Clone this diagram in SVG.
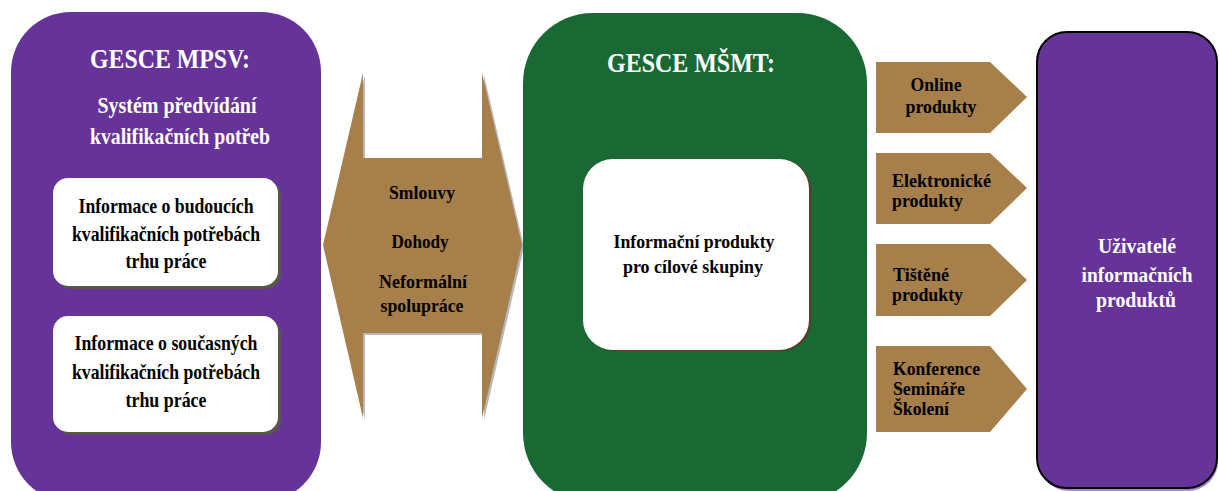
<svg xmlns="http://www.w3.org/2000/svg" width="1219" height="491" viewBox="0 0 1219 491">
<style>
text{font-family:"Liberation Serif","Times New Roman",serif;font-weight:bold}
.w{fill:#ffffff}
.k{fill:#000000}
.c{text-anchor:middle}
.purple{fill:#663399}
.green{fill:#1a6934}
.tan{fill:#a67f4b}
.card{fill:#ffffff}
</style>
<rect width="1219" height="491" fill="#ffffff"/>
<g id="mpsv">
<rect class="purple" x="11" y="12" width="310" height="490" rx="60" ry="60"/>
<text class="w c" x="170" y="68" font-size="28" textLength="160" lengthAdjust="spacingAndGlyphs">GESCE MPSV:</text>
<text class="w c" x="177" y="113" font-size="23" textLength="159" lengthAdjust="spacingAndGlyphs">Systém předvídání</text>
<text class="w c" x="180" y="144" font-size="23" textLength="180" lengthAdjust="spacingAndGlyphs">kvalifikačních potřeb</text>
</g>
<g id="budouci">
<rect x="56" y="181" width="225" height="108" rx="15" fill="#58554f"/>
<rect class="card" x="53" y="178" width="225" height="108" rx="15"/>
<text class="k c" x="166" y="213" font-size="21" textLength="175" lengthAdjust="spacingAndGlyphs">Informace o budoucích</text>
<text class="k c" x="166" y="241" font-size="21" textLength="188" lengthAdjust="spacingAndGlyphs">kvalifikačních potřebách</text>
<text class="k c" x="166" y="268" font-size="21" textLength="81" lengthAdjust="spacingAndGlyphs">trhu práce</text>
</g>
<g id="soucasne">
<rect x="56" y="319" width="225" height="116" rx="15" fill="#58554f"/>
<rect class="card" x="53" y="316" width="225" height="116" rx="15"/>
<text class="k c" x="166" y="350" font-size="21" textLength="183" lengthAdjust="spacingAndGlyphs">Informace o současných</text>
<text class="k c" x="166" y="379" font-size="21" textLength="188" lengthAdjust="spacingAndGlyphs">kvalifikačních potřebách</text>
<text class="k c" x="166" y="407" font-size="21" textLength="81" lengthAdjust="spacingAndGlyphs">trhu práce</text>
</g>
<g id="connectors">
<g id="spoluprace">
<polygon points="325,245 365,75 365,160 484,160 484,75 524,247 484,420 484,335 365,335 365,420" fill="#b8b8b8"/>
<polygon class="tan" points="323,245 363,73 363,158 482,158 482,73 522,245 482,418 482,333 363,333 363,418"/>
<text class="k c" x="422" y="199" font-size="19" textLength="66" lengthAdjust="spacingAndGlyphs">Smlouvy</text>
<text class="k c" x="420" y="248" font-size="19" textLength="57" lengthAdjust="spacingAndGlyphs">Dohody</text>
<text class="k c" x="423" y="288" font-size="19" textLength="88" lengthAdjust="spacingAndGlyphs">Neformální</text>
<text class="k c" x="422" y="312" font-size="19" textLength="83" lengthAdjust="spacingAndGlyphs">spolupráce</text>
</g>
<g id="online">
<polygon class="tan" points="876,62 990,62 1027,97 990,133 876,133"/>
<text class="k c" x="936" y="91" font-size="19" textLength="51" lengthAdjust="spacingAndGlyphs">Online</text>
<text class="k c" x="941" y="113" font-size="19" textLength="71" lengthAdjust="spacingAndGlyphs">produkty</text>
</g>
<g id="elektronicke">
<polygon class="tan" points="876,153 990,153 1027,188 990,224 876,224"/>
<text class="k" x="892" y="187" font-size="19" textLength="99" lengthAdjust="spacingAndGlyphs">Elektronické</text>
<text class="k" x="892" y="207" font-size="19" textLength="71" lengthAdjust="spacingAndGlyphs">produkty</text>
</g>
<g id="tistene">
<polygon class="tan" points="876,244 990,244 1027,280 990,316 876,316"/>
<text class="k" x="893" y="281" font-size="19" textLength="56" lengthAdjust="spacingAndGlyphs">Tištěné</text>
<text class="k" x="892" y="301" font-size="19" textLength="71" lengthAdjust="spacingAndGlyphs">produkty</text>
</g>
<g id="konference">
<polygon class="tan" points="876,346 990,346 1027,389 990,432 876,432"/>
<text class="k" x="893" y="375" font-size="19" textLength="87" lengthAdjust="spacingAndGlyphs">Konference</text>
<text class="k" x="893" y="395" font-size="19" textLength="72" lengthAdjust="spacingAndGlyphs">Semináře</text>
<text class="k" x="893" y="415" font-size="19" textLength="56" lengthAdjust="spacingAndGlyphs">Školení</text>
</g>
</g>
<g id="msmt">
<rect class="green" x="523" y="13" width="344" height="490" rx="70" ry="70"/>
<text class="w c" x="691" y="72" font-size="27" textLength="168" lengthAdjust="spacingAndGlyphs">GESCE MŠMT:</text>
</g>
<g id="produkty">
<rect x="585" y="160" width="226" height="191" rx="30" fill="#5a3a2a"/>
<rect class="card" x="583" y="159" width="226" height="191" rx="30"/>
<text class="k c" x="694" y="248" font-size="19" textLength="161" lengthAdjust="spacingAndGlyphs">Informační produkty</text>
<text class="k c" x="693" y="273" font-size="19" textLength="140" lengthAdjust="spacingAndGlyphs">pro cílové skupiny</text>
</g>
<g id="uzivatele">
<rect x="1039" y="35" width="179" height="456" rx="30" fill="#a68ad0"/>
<rect class="purple" x="1037" y="32" width="180" height="456" rx="30" stroke="#000000" stroke-width="2"/>
<text class="w c" x="1137" y="253" font-size="21" textLength="78" lengthAdjust="spacingAndGlyphs">Uživatelé</text>
<text class="w c" x="1137" y="282" font-size="21" textLength="111" lengthAdjust="spacingAndGlyphs">informačních</text>
<text class="w c" x="1136" y="307" font-size="21" textLength="80" lengthAdjust="spacingAndGlyphs">produktů</text>
</g>
</svg>
